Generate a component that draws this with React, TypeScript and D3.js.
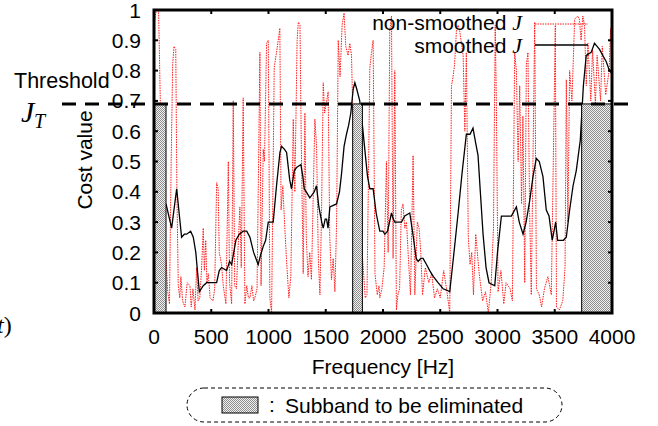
import React from 'react';
import * as d3 from 'd3';

// non-smoothed cost (red dotted)
const rawFreq = [0, 20, 40, 60, 90, 120, 135, 150, 163, 175, 190, 200, 212, 225, 235, 250, 270, 290, 314, 325, 340, 358, 372, 385, 400, 416, 430, 440, 452, 462, 474, 490, 515, 530, 547, 560, 570, 590, 605, 628, 649, 660, 678, 692, 705, 720, 735, 750, 762, 779, 794, 810, 825, 838, 855, 870, 881, 900, 925, 935, 954, 965, 983, 998, 1005, 1012, 1027, 1050, 1070, 1085, 1099, 1110, 1125, 1140, 1158, 1178, 1195, 1216, 1230, 1250, 1260, 1275, 1285, 1303, 1318, 1330, 1345, 1360, 1375, 1405, 1420, 1435, 1449, 1462, 1478, 1490, 1521, 1535, 1550, 1565, 1580, 1595, 1609, 1625, 1643, 1660, 1675, 1695, 1710, 1725, 1740, 1770, 1800, 1827, 1845, 1860, 1885, 1900, 1914, 1930, 1950, 1965, 1972, 1990, 2010, 2030, 2045, 2059, 2074, 2088, 2103, 2117, 2130, 2145, 2160, 2175, 2190, 2205, 2225, 2240, 2263, 2278, 2300, 2315, 2330, 2345, 2370, 2400, 2425, 2450, 2475, 2500, 2530, 2555, 2583, 2598, 2612, 2625, 2641, 2656, 2670, 2700, 2715, 2728, 2745, 2760, 2775, 2790, 2810, 2840, 2870, 2895, 2920, 2945, 2965, 2980, 2990, 3005, 3030, 3055, 3075, 3110, 3130, 3150, 3165, 3180, 3194, 3210, 3222, 3238, 3252, 3266, 3280, 3295, 3325, 3340, 3365, 3385, 3410, 3440, 3470, 3505, 3515, 3540, 3570, 3590, 3601, 3615, 3630, 3650, 3674, 3700, 3715, 3730, 3745, 3760, 3775, 3790, 3815, 3830, 3855, 3870, 3900, 3915, 3945, 3975, 3988, 4000];
const rawCost = [0.95, 1.0, 1.0, 0.6, 0.3, 0.07, 0.03, 0.5, 0.82, 0.88, 0.87, 0.4, 0.09, 0.05, 0.12, 0.04, 0.02, 0.1, 0.09, 0.02, 0.08, 0.01, 0.15, 0.04, 0.05, 0.15, 0.28, 0.14, 0.24, 0.1, 0.13, 0.05, 0.04, 0.08, 0.43, 0.41, 0.2, 0.16, 0.09, 0.03, 0.5, 0.1, 0.03, 0.7, 0.09, 0.08, 0.22, 0.35, 0.15, 0.71, 0.03, 0.09, 0.05, 0.05, 0.09, 0.04, 0.05, 0.08, 0.86, 0.09, 0.54, 0.5, 0.89, 0.9, 0.49, 0.05, 0.0, 0.81, 0.86, 0.9, 0.94, 0.34, 0.42, 0.3, 0.17, 0.05, 0.12, 0.64, 0.4, 0.9, 0.96, 0.95, 0.6, 0.13, 0.66, 0.25, 0.12, 0.2, 0.11, 0.64, 0.55, 0.18, 0.06, 0.3, 0.76, 0.66, 0.73, 0.25, 0.11, 0.18, 0.07, 0.3, 0.9, 0.78, 0.95, 0.99, 0.88, 0.85, 0.89, 0.85, 0.6, 0.4, 0.3, 0.15, 0.05, 0.06, 0.81, 0.86, 0.9, 0.13, 0.06, 0.09, 0.05, 0.08, 0.15, 0.5, 0.2, 0.93, 0.98, 0.18, 0.8, 0.01, 0.06, 0.08, 0.34, 0.36, 0.28, 0.3, 0.16, 0.06, 0.52, 0.06, 0.3, 0.28, 0.2, 0.06, 0.15, 0.1, 0.13, 0.05, 0.08, 0.05, 0.14, 0.08, 0.0, 0.75, 0.78, 0.82, 0.93, 0.95, 0.93, 0.85, 0.6, 0.86, 0.25, 0.16, 0.2, 0.06, 0.26, 0.13, 0.04, 0.07, 0.0, 0.1, 0.28, 0.95, 0.7, 0.07, 0.14, 0.03, 0.1, 0.08, 0.04, 0.86, 0.8, 0.5, 0.75, 0.36, 0.65, 0.1, 0.82, 0.86, 0.35, 0.06, 0.96, 0.08, 0.06, 0.02, 0.08, 0.12, 0.06, 0.95, 0.02, 0.01, 0.04, 0.15, 0.77, 0.3, 0.8, 0.7, 0.97, 0.98, 0.97, 0.9, 0.98, 0.95, 0.75, 0.89, 0.7, 0.87, 0.69, 0.85, 0.7, 0.88, 0.72, 0.8, 0.94, 0.7];

// smoothed cost (black)
const smoothFreq = [105, 154, 198, 241, 265, 285, 320, 343, 365, 396, 430, 460, 500, 547, 570, 590, 634, 660, 678, 715, 745, 779, 810, 838, 870, 910, 930, 954, 975, 998, 1041, 1070, 1100, 1114, 1140, 1158, 1185, 1201, 1225, 1245, 1283, 1300, 1312, 1330, 1361, 1400, 1419, 1440, 1465, 1478, 1495, 1507, 1520, 1536, 1594, 1620, 1638, 1660, 1681, 1700, 1719, 1740, 1754, 1770, 1797, 1820, 1841, 1865, 1885, 1914, 1940, 1972, 2000, 2016, 2040, 2074, 2090, 2103, 2161, 2190, 2234, 2265, 2290, 2307, 2330, 2350, 2380, 2408, 2440, 2481, 2525, 2560, 2583, 2620, 2656, 2690, 2728, 2760, 2786, 2810, 2830, 2850, 2874, 2900, 2926, 2976, 3000, 3034, 3080, 3121, 3165, 3190, 3223, 3250, 3281, 3310, 3339, 3365, 3397, 3426, 3450, 3478, 3508, 3525, 3543, 3575, 3601, 3630, 3660, 3688, 3723, 3750, 3775, 3818, 3847, 3870, 3891, 3920, 3949, 3978, 4000];
const smoothCost = [0.36, 0.28, 0.41, 0.25, 0.26, 0.26, 0.27, 0.25, 0.2, 0.07, 0.09, 0.1, 0.1, 0.1, 0.14, 0.15, 0.14, 0.17, 0.16, 0.24, 0.26, 0.27, 0.27, 0.25, 0.2, 0.16, 0.19, 0.22, 0.24, 0.3, 0.3, 0.42, 0.53, 0.55, 0.54, 0.53, 0.44, 0.41, 0.47, 0.48, 0.49, 0.45, 0.41, 0.4, 0.38, 0.4, 0.42, 0.35, 0.3, 0.28, 0.31, 0.31, 0.28, 0.35, 0.36, 0.4, 0.46, 0.55, 0.59, 0.62, 0.66, 0.74, 0.76, 0.74, 0.7, 0.62, 0.54, 0.45, 0.41, 0.41, 0.33, 0.27, 0.27, 0.26, 0.27, 0.33, 0.31, 0.3, 0.3, 0.32, 0.33, 0.25, 0.18, 0.17, 0.18, 0.18, 0.16, 0.14, 0.12, 0.1, 0.08, 0.075, 0.07, 0.2, 0.33, 0.46, 0.59, 0.59, 0.61, 0.56, 0.52, 0.4, 0.26, 0.15, 0.1, 0.09, 0.2, 0.32, 0.32, 0.32, 0.35, 0.3, 0.26, 0.3, 0.37, 0.45, 0.51, 0.5, 0.45, 0.34, 0.32, 0.24, 0.3, 0.24, 0.24, 0.24, 0.25, 0.34, 0.42, 0.47, 0.57, 0.75, 0.85, 0.86, 0.89, 0.88, 0.87, 0.85, 0.83, 0.8, 0.79];

// subbands to be eliminated [Hz]
const bandStart = [0, 1735, 3735];
const bandEnd = [105, 1820, 4000];
const threshold = 0.69;

const xTicks = [0, 500, 1000, 1500, 2000, 2500, 3000, 3500, 4000];
const yTicks = [0, 0.1, 0.2, 0.3, 0.4, 0.5, 0.6, 0.7, 0.8, 0.9, 1];

const sans = '"Liberation Sans", Arial, Helvetica, sans-serif';
const serif = '"Liberation Serif", "DejaVu Serif", serif';

export default function App() {
  const left = 154, right = 612, top = 10, bottom = 313;
  const x = d3.scaleLinear().domain([0, 4000]).range([left, right]);
  const y = d3.scaleLinear().domain([0, 1]).range([bottom, top]);

  const line = d3.line<[number, number]>().x(d => x(d[0])).y(d => y(d[1]));
  const rawPath = line(rawFreq.map((f, i) => [f, rawCost[i]]));
  const smoothPath = line(smoothFreq.map((f, i) => [f, smoothCost[i]]));

  return (
    <svg width={658} height={426} style={{ position: 'absolute', left: 0, top: 0, background: '#fff' }}>
      <defs>
        <pattern id="dots" width={2} height={2} patternUnits="userSpaceOnUse">
          <rect width={2} height={2} fill="#f2f2f2" />
          <rect width={1} height={1} fill="#8c8c8c" />
          <rect x={1} y={1} width={1} height={1} fill="#8c8c8c" />
        </pattern>
        <clipPath id="plot">
          <rect x={left} y={top} width={right - left} height={bottom - top} />
        </clipPath>
      </defs>

      {/* curves */}
      <g clipPath="url(#plot)">
        <path d={rawPath || ''} fill="none" stroke="#ff1a1a" strokeWidth={1} strokeDasharray="1.5,1" />
        <path d={smoothPath || ''} fill="none" stroke="#000" strokeWidth={1.3} />
      </g>

      {/* eliminated subbands */}
      {bandStart.map((b, i) => (
        <rect key={i} x={x(b)} y={y(threshold)} width={x(bandEnd[i]) - x(b)} height={y(0) - y(threshold)}
          fill="url(#dots)" stroke="#000" strokeWidth={1} />
      ))}

      {/* frame */}
      <rect x={left} y={top} width={right - left} height={bottom - top} fill="none" stroke="#000" strokeWidth={3} />
      {xTicks.map(t => (
        <g key={'x' + t}>
          <line x1={x(t)} x2={x(t)} y1={bottom} y2={bottom - 4} stroke="#000" strokeWidth={2} />
          <line x1={x(t)} x2={x(t)} y1={top} y2={top + 4} stroke="#000" strokeWidth={2} />
          <text x={x(t)} y={344} textAnchor="middle" fontFamily={sans} fontSize={21}>{t}</text>
        </g>
      ))}
      {yTicks.map(t => (
        <g key={'y' + t}>
          <line x1={left} x2={left + 4} y1={y(t)} y2={y(t)} stroke="#000" strokeWidth={2} />
          <line x1={right} x2={right - 4} y1={y(t)} y2={y(t)} stroke="#000" strokeWidth={2} />
          <text x={141} y={y(t)} dy="0.36em" textAnchor="end" fontFamily={sans} fontSize={21}>{t}</text>
        </g>
      ))}

      {/* threshold */}
      <line x1={62} x2={637} y1={y(threshold)} y2={y(threshold)} stroke="#000" strokeWidth={3} strokeDasharray="14,9" />
      <text x={14} y={88} fontFamily={sans} fontSize={21.5}>Threshold</text>
      <text x={21} y={122} fontFamily={serif} fontStyle="italic" fontSize={30}>J</text>
      <text x={34} y={128} fontFamily={serif} fontStyle="italic" fontSize={20}>T</text>
      <text x={-3} y={333} fontFamily={serif} fontSize={24}><tspan fontStyle="italic">t</tspan>)</text>

      {/* axis titles */}
      <text x={383} y={374} textAnchor="middle" fontFamily={sans} fontSize={21}>Frequency [Hz]</text>
      <text transform="translate(92,160) rotate(-90)" textAnchor="middle" fontFamily={sans} fontSize={21}>Cost value</text>

      {/* legend */}
      <text x={522} y={30} textAnchor="end" fontFamily={sans} fontSize={21}>
        non-smoothed <tspan fontFamily={serif} fontStyle="italic" fontSize={22}>J</tspan>
      </text>
      <line x1={535} x2={588} y1={24} y2={24} stroke="#ff1a1a" strokeWidth={1} strokeDasharray="1.5,1" />
      <text x={522} y={53} textAnchor="end" fontFamily={sans} fontSize={21}>
        smoothed <tspan fontFamily={serif} fontStyle="italic" fontSize={22}>J</tspan>
      </text>
      <line x1={535} x2={588} y1={45} y2={45} stroke="#000" strokeWidth={1.3} />

      {/* bottom legend */}
      <rect x={187} y={388} width={375} height={34} rx={17} ry={17} fill="none" stroke="#000" strokeWidth={1} strokeDasharray="4,3" />
      <rect x={222} y={397} width={36} height={16} fill="url(#dots)" stroke="#000" strokeWidth={1} />
      <text x={269} y={412} fontFamily={sans} fontSize={21}>:</text>
      <text x={285} y={413} fontFamily={sans} fontSize={21}>Subband to be eliminated</text>
    </svg>
  );
}
